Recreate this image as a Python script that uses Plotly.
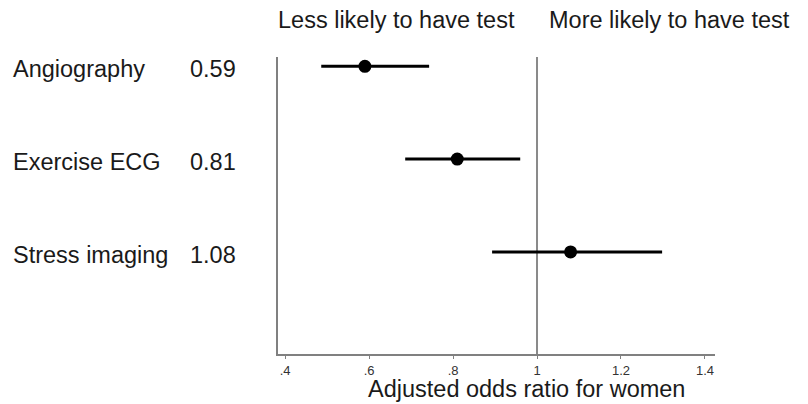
import plotly.graph_objects as go

categories = ["Angiography", "Exercise ECG", "Stress imaging"]
odds_ratio = [0.59, 0.81, 1.08]
ci_low = [0.486, 0.686, 0.893]
ci_high = [0.743, 0.960, 1.298]
row_pos = [3, 2, 1]
tick_vals = [0.4, 0.6, 0.8, 1.0, 1.2, 1.4]
tick_text = [".4", ".6", ".8", "1", "1.2", "1.4"]

FONT = "Liberation Sans, Arial, sans-serif"
TXT = "#1a1a1a"
L, R, T, B = 278, 93, 57, 50
W, H = 808, 404
pw = W - L - R

def px_to_paper(px):
    return (px - L) / pw

fig = go.Figure()

# reference line at OR = 1
fig.add_shape(type="line", xref="x", yref="paper", x0=1, x1=1, y0=0, y1=1,
              line=dict(color="#8a8a8a", width=2), layer="below")

fig.add_trace(go.Scatter(
    x=odds_ratio, y=row_pos, mode="markers",
    marker=dict(color="black", size=13),
    error_x=dict(type="data", symmetric=False,
                 array=[h - o for h, o in zip(ci_high, odds_ratio)],
                 arrayminus=[o - l for o, l in zip(odds_ratio, ci_low)],
                 color="black", thickness=3, width=0),
    showlegend=False, hoverinfo="skip"))

for cat, val, yv in zip(categories, odds_ratio, row_pos):
    fig.add_annotation(text=cat, xref="paper", yref="y", x=px_to_paper(11), y=yv,
                       xanchor="left", yanchor="middle", yshift=-3, showarrow=False,
                       font=dict(family=FONT, size=23.5, color=TXT))
    fig.add_annotation(text=f"{val:.2f}", xref="paper", yref="y", x=px_to_paper(188), y=yv,
                       xanchor="left", yanchor="middle", yshift=-3, showarrow=False,
                       font=dict(family=FONT, size=23.5, color=TXT))

fig.add_annotation(text="Less likely to have test", xref="paper", yref="paper",
                   x=px_to_paper(276), y=1, yshift=37, xanchor="left", yanchor="middle",
                   showarrow=False, font=dict(family=FONT, size=23.5, color=TXT))
fig.add_annotation(text="More likely to have test", xref="paper", yref="paper",
                   x=px_to_paper(547), y=1, yshift=37, xanchor="left", yanchor="middle",
                   showarrow=False, font=dict(family=FONT, size=23.5, color=TXT))
fig.add_annotation(text="Adjusted odds ratio for women", xref="paper", yref="paper",
                   x=px_to_paper(526), y=0, yshift=-50, xanchor="center", yanchor="bottom",
                   showarrow=False, font=dict(family=FONT, size=23.5, color=TXT))

fig.update_xaxes(range=[0.383, 1.424], tickvals=tick_vals, ticktext=tick_text,
                 showgrid=False, zeroline=False, showline=True, linecolor="#808080",
                 linewidth=2, ticks="outside", ticklen=3, tickcolor="#808080",
                 tickfont=dict(family=FONT, size=13, color="#333"))
fig.update_yaxes(range=[-0.1, 3.1], showgrid=False, zeroline=False, showline=True,
                 linecolor="#808080", linewidth=2, showticklabels=False, ticks="")

fig.update_layout(width=W, height=H, margin=dict(l=L, r=R, t=T, b=B),
                  plot_bgcolor="white", paper_bgcolor="white")

fig.write_html("out.html")
